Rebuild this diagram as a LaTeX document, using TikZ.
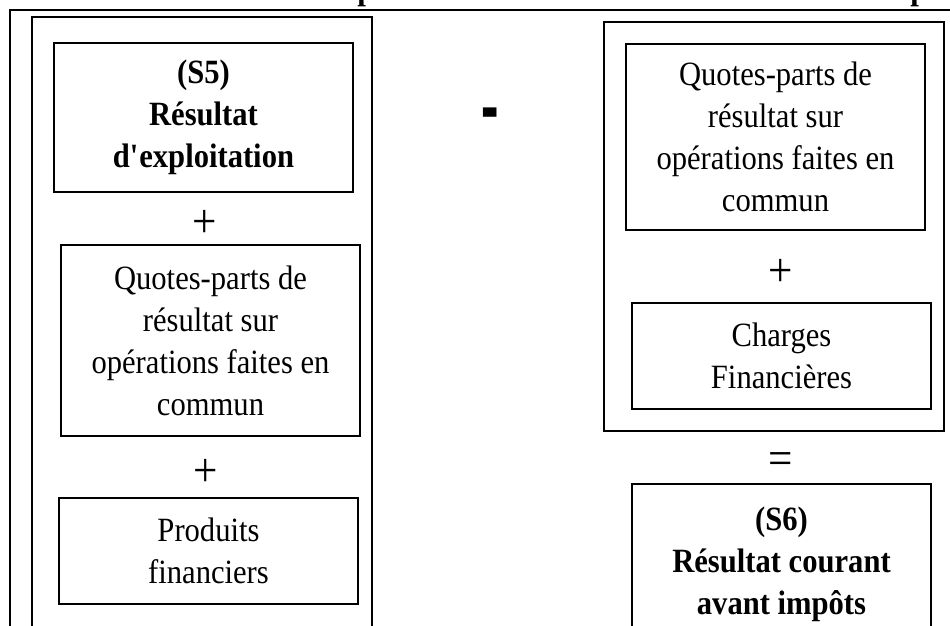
\documentclass[tikz,border=0pt]{standalone}
\usepackage{fontspec}
\setmainfont{Liberation Serif}[FakeStretch=0.9]
\usepackage{graphicx}
\newcommand\txtsz{\fontsize{34}{42}\selectfont}
\begin{document}
\begin{tikzpicture}[x=1pt,y=-1pt,
  frame/.style={draw=black, line width=1.5pt},
  box/.style={draw=black, line width=1.5pt, align=center, inner sep=0pt, font=\txtsz},
  boldbox/.style={box, font=\txtsz\bfseries},
  sign/.style={inner sep=0pt, font=\fontsize{48}{48}\selectfont},
  ]
\useasboundingbox (0,0) rectangle (950,626);
% title (cut by the top edge)
\node[anchor=base west, inner sep=0pt, font=\fontsize{34.5}{42}\selectfont\bfseries] (title) at (131,0)
  {Schéma N°1 : Représentation du résultat courant avant impôts};
% outer frames
\draw[frame] (10,660) -- (10,10) -- (980,10);
\draw[frame] (32,660) -- (32,17) -- (372,17) -- (372,660);
\node[frame, minimum width=340pt, minimum height=409pt] (rightcol) at (774,226.5) {};
% left column
\node[boldbox, minimum width=299pt, minimum height=149pt] (s5) at (203.5,117.5)
  {\raisebox{-3pt}{(S5)}\\\raisebox{-3pt}{Résultat}\\\raisebox{-3pt}{d\textquotesingle exploitation}};
\node[sign] (plus1) at (205,224) {+};
\node[box, minimum width=299pt, minimum height=191pt] (qpl) at (210.5,340.5)
  {Quotes-parts de\\résultat sur\\opérations faites en\\commun};
\node[sign] (plus2) at (206,473) {+};
\node[box, minimum width=299pt, minimum height=106pt] (prod) at (208.5,551)
  {Produits\\financiers};
% minus sign
\node[anchor=base, inner sep=0pt, font=\fontsize{58}{58}\selectfont\bfseries] (minus) at (490,138) {\scalebox{1}[1.9]{-}};
% right column
\node[box, minimum width=299pt, minimum height=186pt] (qpr) at (775.5,137)
  {\raisebox{-4pt}{Quotes-parts de}\\\raisebox{-4pt}{résultat sur}\\\raisebox{-4pt}{opérations faites en}\\\raisebox{-4pt}{commun}};
\node[sign] (plus3) at (781,273) {+};
\node[box, minimum width=299pt, minimum height=106pt] (chg) at (781.5,356)
  {Charges\\Financières};
\node[sign] (equals) at (781,464) {=};
\draw[frame] (632,680) -- (632,484) -- (931,484) -- (931,680);
\node[inner sep=0pt, align=center, font=\txtsz\bfseries] (s6) at (781.5,564)
  {(S6)\\Résultat courant\\avant impôts};
\end{tikzpicture}
\end{document}
